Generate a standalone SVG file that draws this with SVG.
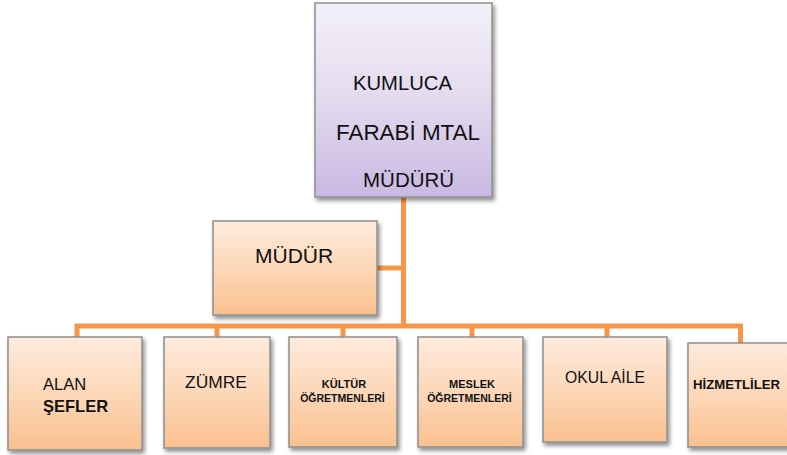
<svg xmlns="http://www.w3.org/2000/svg" width="787" height="455" viewBox="0 0 787 455">
<defs>
<linearGradient id="gOr" x1="0" y1="0" x2="0" y2="1">
<stop offset="0" stop-color="#FEEBDD"/>
<stop offset="0.55" stop-color="#FCD5B4"/>
<stop offset="1" stop-color="#FAC08F"/>
</linearGradient>
<linearGradient id="gPu" x1="0" y1="0" x2="0" y2="1">
<stop offset="0" stop-color="#F3F0F8"/>
<stop offset="0.5" stop-color="#E3DAEF"/>
<stop offset="1" stop-color="#C9B8E2"/>
</linearGradient>
<filter id="sh" x="-10%" y="-10%" width="130%" height="130%">
<feGaussianBlur in="SourceAlpha" stdDeviation="2"/>
<feOffset dx="2" dy="3" result="b"/>
<feComponentTransfer><feFuncA type="linear" slope="0.45"/></feComponentTransfer>
<feMerge><feMergeNode/><feMergeNode in="SourceGraphic"/></feMerge>
</filter>
</defs>
<style>
.or{fill:url(#gOr);stroke:#8E8E8E;stroke-width:1.5;filter:url(#sh)}
.pu{fill:url(#gPu);stroke:#8E8E8E;stroke-width:1.5;filter:url(#sh)}
.t{font-family:"Liberation Sans",Arial,sans-serif;fill:#111}
.b{font-family:"Liberation Sans",Arial,sans-serif;font-weight:bold;fill:#111}
.c{fill:none;stroke:#F79646;stroke-width:5}
</style>
<g id="connectors">
<path class="c" d="M403.5 196 V326"/>
<path class="c" d="M376 268 H403.5"/>
<path class="c" d="M77 337 V326 H740.5 V343"/>
<path class="c" d="M217 337 V326"/>
<path class="c" d="M343 337 V326"/>
<path class="c" d="M472 337 V326"/>
<path class="c" d="M607 337 V326"/>
</g>
<g id="n-top">
<rect class="pu" x="315" y="3" width="177" height="194"/>
<text class="t" x="353" y="90" font-size="21" textLength="99" lengthAdjust="spacingAndGlyphs">KUMLUCA</text>
<text class="t" x="336" y="140" font-size="22" textLength="144" lengthAdjust="spacingAndGlyphs">FARABİ MTAL</text>
<text class="t" x="363" y="187" font-size="20.5">MÜDÜRÜ</text>
</g>
<g id="n-mudur">
<rect class="or" x="213" y="221" width="164" height="94"/>
<text class="t" x="255" y="263" font-size="21">MÜDÜR</text>
</g>
<g id="n-alan">
<rect class="or" x="8" y="337" width="134" height="113"/>
<text class="t" x="43" y="390" font-size="16.5">ALAN</text>
<text class="b" x="43" y="412" font-size="16.5">ŞEFLER</text>
</g>
<g id="n-zumre">
<rect class="or" x="164" y="337" width="106" height="111"/>
<text class="t" x="185" y="388" font-size="16.5" textLength="62" lengthAdjust="spacingAndGlyphs">ZÜMRE</text>
</g>
<g id="n-kultur">
<rect class="or" x="289" y="337" width="108" height="110"/>
<text class="b" x="344" y="388" font-size="11" text-anchor="middle">KÜLTÜR</text>
<text class="b" x="342.5" y="402" font-size="10.5" text-anchor="middle">ÖĞRETMENLERİ</text>
</g>
<g id="n-meslek">
<rect class="or" x="418" y="337" width="105" height="110"/>
<text class="b" x="472" y="388" font-size="11" text-anchor="middle">MESLEK</text>
<text class="b" x="469.5" y="402" font-size="10.5" text-anchor="middle">ÖĞRETMENLERİ</text>
</g>
<g id="n-okul">
<rect class="or" x="543" y="337" width="124" height="105"/>
<text class="t" x="565" y="383" font-size="17" textLength="80" lengthAdjust="spacingAndGlyphs">OKUL AİLE</text>
</g>
<g id="n-hizmet">
<rect class="or" x="688" y="343" width="104" height="104"/>
<text class="b" x="693" y="389" font-size="13" textLength="87" lengthAdjust="spacingAndGlyphs">HİZMETLİLER</text>
</g>
</svg>
